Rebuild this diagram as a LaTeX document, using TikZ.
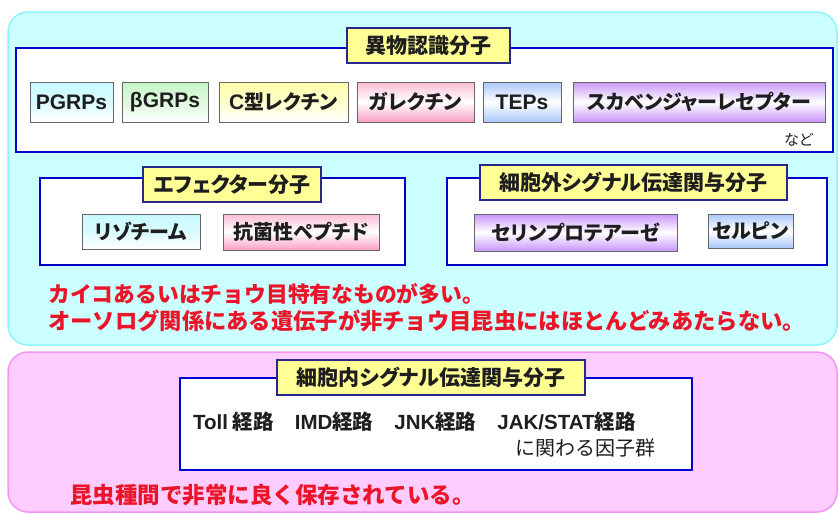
\documentclass[tikz,border=0pt]{standalone}
\usepackage{fontspec}
\setmainfont{Noto Sans CJK JP}
\newfontfamily\jpp{Noto Sans CJK JP}[RawFeature=+palt]
\newfontfamily\lat{Liberation Sans}
\definecolor{cyanfill}{RGB}{204,255,255}
\definecolor{cyanedge}{RGB}{140,245,250}
\definecolor{pinkfill}{RGB}{255,204,255}
\definecolor{pinkedge}{RGB}{240,150,240}
\definecolor{grpblue}{RGB}{0,0,200}
\definecolor{ttlyellow}{RGB}{255,255,150}
\definecolor{ttledge}{RGB}{40,40,140}
\definecolor{redtxt}{RGB}{235,20,40}
\definecolor{lcyan}{RGB}{200,250,255}
\definecolor{lgreen}{RGB}{200,245,200}
\definecolor{lyellow}{RGB}{255,255,170}
\definecolor{lpink}{RGB}{250,160,195}
\definecolor{lblue}{RGB}{170,200,250}
\definecolor{lpurple}{RGB}{200,150,250}
\definecolor{itemtxt}{RGB}{30,30,30}
\tikzset{
  bgbox/.style={rounded corners=20pt, line width=1.5pt, inner sep=0pt},
  grp/.style={draw=grpblue, line width=2.5pt, fill=white, inner sep=0pt},
  ttl/.style={draw=ttledge, line width=1.2pt, fill=ttlyellow, inner sep=0pt,
    font=\jpp\bfseries\fontsize{21}{24}\selectfont, text=itemtxt},
  item/.style={draw=black!60, line width=1pt, inner sep=0pt,
    font=\jpp\bfseries\fontsize{20}{24}\selectfont, text=itemtxt},
  shcyan/.style={top color=lcyan, bottom color=white, middle color=lcyan!70},
  shgreen/.style={top color=lgreen, bottom color=white, middle color=lgreen!60},
  shyellow/.style={top color=lyellow, bottom color=white, middle color=lyellow!60},
  shpink/.style={top color=lpink!70, bottom color=lpink, middle color=white},
  shblue/.style={top color=lblue, bottom color=lblue, middle color=white},
  shpurple/.style={top color=lpurple, bottom color=lpurple, middle color=white},
  redline/.style={anchor=west, inner sep=0pt, text=redtxt},
  plain/.style={anchor=west, inner sep=0pt, text=itemtxt},
  latn/.style={font=\lat\bfseries\fontsize{21}{24}\selectfont}
}
\begin{document}
\begin{tikzpicture}[x=1pt,y=-1pt]
\useasboundingbox (0,0) rectangle (839,514);
% backgrounds
\node[bgbox, draw=cyanedge, fill=cyanfill, minimum width=829pt, minimum height=333pt] (cyanbg) at (422.5,178.5) {};
\node[bgbox, draw=pinkedge, fill=pinkfill, minimum width=829pt, minimum height=160pt] (pinkbg) at (422.5,432) {};
% group 1
\node[grp, minimum width=817pt, minimum height=104pt] (g1) at (424.5,100) {};
\node[ttl, minimum width=163pt, minimum height=35pt] (t1) at (428.5,45.5) {異物認識分子};
\node[item, latn, shcyan, minimum width=83pt, minimum height=40pt] (pgrp) at (71.5,102) {PGRPs};
\node[item, latn, shgreen, minimum width=86pt, minimum height=40pt] (bgrp) at (165,102) {βGRPs};
\node[item, shyellow, minimum width=129pt, minimum height=40pt] (clec) at (283.5,102) {{\lat\bfseries\fontsize{21}{24}\selectfont C}型レクチン};
\node[item, shpink, minimum width=117pt, minimum height=40pt] (galec) at (415.5,102) {ガレクチン};
\node[item, latn, shblue, minimum width=78pt, minimum height=40pt] (teps) at (522,102) {TEPs};
\node[item, shpurple, minimum width=252pt, minimum height=40pt] (scav) at (699,102) {スカベンジャーレセプター};
\node[plain, font=\jpp\fontsize{15}{18}\selectfont] (nado) at (784,140) {など};
% effector group
\node[grp, minimum width=365pt, minimum height=87pt] (g2) at (222.5,221.5) {};
\node[ttl, minimum width=178pt, minimum height=35pt] (t2) at (232,184.5) {エフェクター分子};
\node[item, shcyan, minimum width=118pt, minimum height=35pt] (lyso) at (141,231.5) {リゾチーム};
\node[item, shpink, minimum width=156pt, minimum height=36pt] (amp) at (301,232) {抗菌性ペプチド};
% extracellular group
\node[grp, minimum width=380pt, minimum height=87pt] (g3) at (637,221.5) {};
\node[ttl, minimum width=307pt, minimum height=35pt] (t3) at (633.5,182.5) {細胞外シグナル伝達関与分子};
\node[item, shpurple, minimum width=203pt, minimum height=37pt] (serp) at (575.5,232.5) {セリンプロテアーゼ};
\node[item, shblue, minimum width=85pt, minimum height=34pt] (serpin) at (750.5,231) {セルピン};
% red notes
\node[redline, font=\bfseries\fontsize{21.8}{24}\selectfont] (r1) at (48,294) {カイコあるいはチョウ目特有なものが多い。};
\node[redline, font=\bfseries\fontsize{22.3}{24}\selectfont] (r2) at (48,321) {オーソログ関係にある遺伝子が非チョウ目昆虫にはほとんどみあたらない。};
% intracellular group
\node[grp, minimum width=512pt, minimum height=92pt] (g4) at (436,424) {};
\node[ttl, minimum width=308pt, minimum height=35pt] (t4) at (431,377.5) {細胞内シグナル伝達関与分子};
\node[plain, font=\bfseries\fontsize{20.5}{22}\selectfont] (paths) at (193,422)
  {{\lat\bfseries Toll} 経路\hspace{21pt}{\lat\bfseries IMD}経路\hspace{21pt}{\lat\bfseries JNK}経路\hspace{21pt}{\lat\bfseries JAK/STAT}経路};
\node[plain, font=\fontsize{20}{22}\selectfont] (factors) at (515,448) {に関わる因子群};
\node[redline, font=\bfseries\fontsize{22.5}{24}\selectfont] (r3) at (70,495) {昆虫種間で非常に良く保存されている。};
\end{tikzpicture}
\end{document}
